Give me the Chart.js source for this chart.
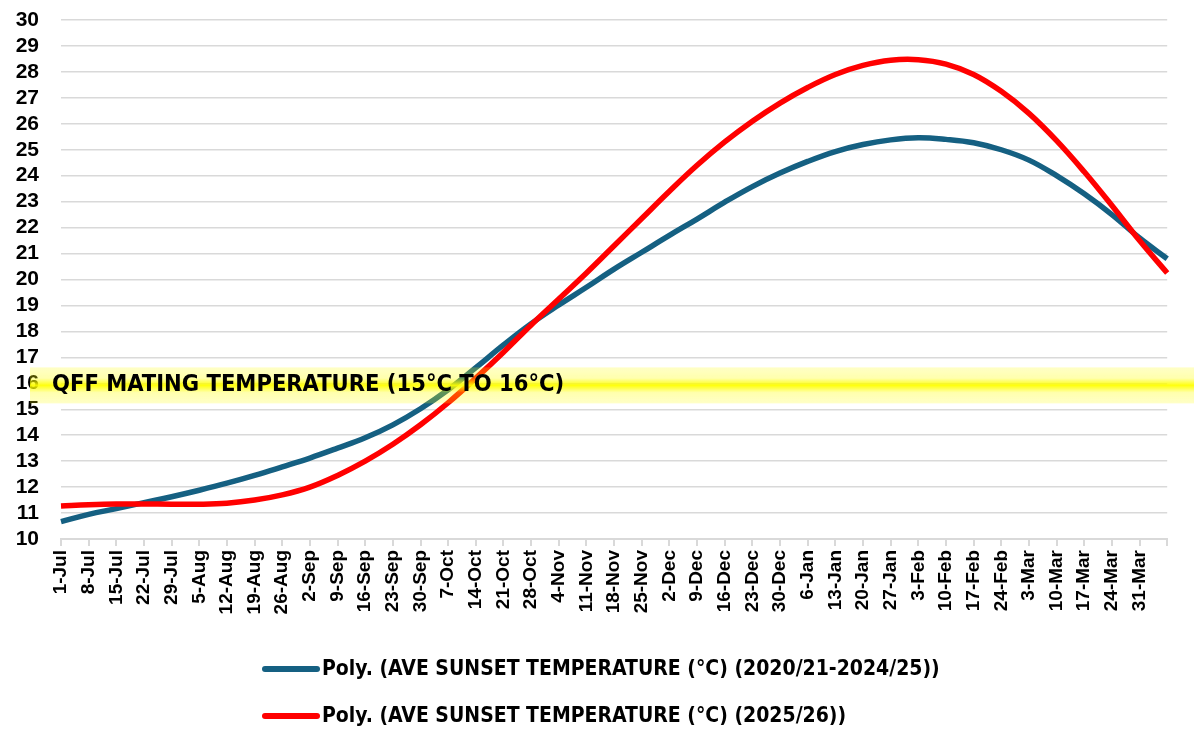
<!DOCTYPE html>
<html>
<head>
<meta charset="utf-8">
<script src="https://cdn.jsdelivr.net/npm/chart.js@4"></script>
<style>
  html, body { margin: 0; padding: 0; background: #fff; }
  #wrap { width: 1194px; height: 729px; }
</style>
</head>
<body>
<div id="wrap"><canvas id="tempChart"></canvas></div>
<script>
// weekly categories, last slot is the empty end tick
var weeks = ['1-Jul', '8-Jul', '15-Jul', '22-Jul', '29-Jul', '5-Aug', '12-Aug', '19-Aug', '26-Aug',
    '2-Sep', '9-Sep', '16-Sep', '23-Sep', '30-Sep', '7-Oct', '14-Oct', '21-Oct', '28-Oct',
    '4-Nov', '11-Nov', '18-Nov', '25-Nov', '2-Dec', '9-Dec', '16-Dec', '23-Dec', '30-Dec',
    '6-Jan', '13-Jan', '20-Jan', '27-Jan', '3-Feb', '10-Feb', '17-Feb', '24-Feb',
    '3-Mar', '10-Mar', '17-Mar', '24-Mar', '31-Mar', ''];

var avgTemps = [10.67, 10.95, 11.17, 11.4, 11.63, 11.88, 12.15, 12.45, 12.78, 13.12, 13.5, 13.9,
    14.4, 15.02, 15.75, 16.6, 17.48, 18.3, 19.02, 19.7, 20.4, 21.05, 21.7, 22.33, 22.98, 23.58,
    24.1, 24.55, 24.93, 25.2, 25.38, 25.46, 25.4, 25.27, 25.0, 24.6, 24.0, 23.3, 22.5, 21.6, 20.8];

var currentTemps = [11.27, 11.32, 11.35, 11.35, 11.34, 11.34, 11.38, 11.5, 11.7, 12.0, 12.45, 13.0,
    13.65, 14.4, 15.25, 16.2, 17.2, 18.25, 19.25, 20.25, 21.3, 22.35, 23.4, 24.4, 25.3, 26.1,
    26.8, 27.4, 27.9, 28.25, 28.45, 28.47, 28.3, 27.9, 27.25, 26.4, 25.35, 24.15, 22.85, 21.5, 20.25];

var seriesNames = ['Poly. (AVE SUNSET TEMPERATURE (°C) (2020/21-2024/25))',
    'Poly. (AVE SUNSET TEMPERATURE (°C) (2025/26))'];
var seriesColors = ['#156082', '#ff0000'];

var yMin = 10, yMax = 30, yStep = 1;
var bandLevel = 15.92;
var bandText = 'QFF MATING TEMPERATURE (15°C TO 16°C)';

var narrowFont = '"DejaVu Sans Condensed", "Liberation Sans Narrow", sans-serif';

// yellow glow band with its caption, drawn over the curves
var bandPlugin = {
    id: 'band',
    afterDraw: function (chart) {
        var ctx = chart.ctx;
        var y = chart.scales.y.getPixelForValue(bandLevel);
        var h = 18;
        var g = ctx.createLinearGradient(0, y - h, 0, y + h);
        g.addColorStop(0, 'rgba(255,255,0,0.22)');
        g.addColorStop(0.3, 'rgba(255,255,0,0.32)');
        g.addColorStop(0.5, 'rgba(255,255,0,0.95)');
        g.addColorStop(0.7, 'rgba(255,255,0,0.32)');
        g.addColorStop(1, 'rgba(255,255,0,0.22)');
        ctx.save();
        ctx.fillStyle = g;
        ctx.fillRect(30, y - h, chart.width - 30, h * 2);
        ctx.fillStyle = '#000';
        ctx.font = 'bold 23.5px ' + narrowFont;
        ctx.textBaseline = 'middle';
        ctx.fillText(bandText, 52, y);
        ctx.restore();
    }
};

// legend stacked in two rows, drawn by hand
var legendPlugin = {
    id: 'stackedLegend',
    afterDraw: function (chart) {
        var ctx = chart.ctx;
        var rows = [669, 716];
        ctx.save();
        ctx.font = 'bold 21px ' + narrowFont;
        ctx.textBaseline = 'middle';
        chart.data.datasets.forEach(function (ds, i) {
            ctx.strokeStyle = ds.borderColor;
            ctx.lineWidth = 6;
            ctx.lineCap = 'round';
            ctx.beginPath();
            ctx.moveTo(265, rows[i]);
            ctx.lineTo(317, rows[i]);
            ctx.stroke();
            ctx.fillStyle = '#000';
            ctx.fillText(ds.label, 322, rows[i] + 1);
        });
        ctx.restore();
    }
};

var sansFamily = '"Liberation Sans", Arial, sans-serif';

new Chart(document.getElementById('tempChart').getContext('2d'), {
    type: 'line',
    data: {
        labels: weeks,
        datasets: [{
            label: seriesNames[0],
            data: avgTemps,
            borderColor: seriesColors[0],
            borderWidth: 5.5,
            pointRadius: 0,
            tension: 0.4,
            order: 1
        }, {
            label: seriesNames[1],
            data: currentTemps,
            borderColor: seriesColors[1],
            borderWidth: 5.5,
            pointRadius: 0,
            tension: 0.4,
            order: 0
        }]
    },
    options: {
        responsive: true,
        maintainAspectRatio: false,
        animation: false,
        layout: { padding: { top: 20, right: 21, left: 0, bottom: 0 } },
        scales: {
            x: {
                offset: false,
                grid: { display: true, drawOnChartArea: false, drawTicks: true, tickLength: 7, color: '#d9d9d9', lineWidth: 2 },
                border: { display: true, color: '#d9d9d9', width: 2 },
                ticks: {
                    autoSkip: false, minRotation: 90, maxRotation: 90, padding: 4, color: '#000',
                    font: { family: sansFamily, weight: 'bold', size: 19 }
                },
                afterFit: function (s) { s.height = 190; }
            },
            y: {
                min: yMin,
                max: yMax,
                ticks: {
                    stepSize: yStep, autoSkip: false, padding: 0, color: '#000',
                    font: { family: sansFamily, weight: 'bold', size: 21 }
                },
                // invisible tick marks keep the labels clear of the plot
                grid: { color: '#d9d9d9', lineWidth: 1.5, drawTicks: true, tickLength: 22, tickColor: 'rgba(0,0,0,0)' },
                border: { display: false },
                afterFit: function (s) { s.width = 61; }
            }
        },
        plugins: {
            legend: { display: false },
            tooltip: { enabled: false }
        }
    },
    plugins: [bandPlugin, legendPlugin]
});
</script>
</body>
</html>
